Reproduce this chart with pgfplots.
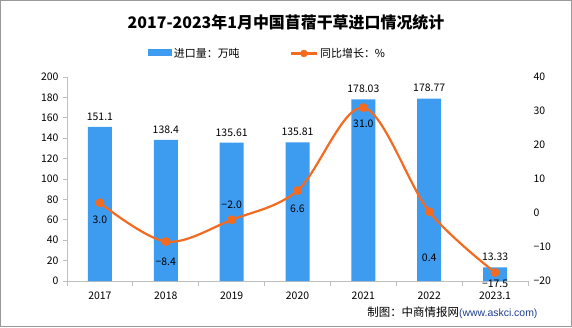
\documentclass[border=0pt]{standalone}
\usepackage{pgfplots}
\pgfplotsset{compat=1.18}
\usepackage{fontspec}
\setmainfont{Noto Sans CJK SC}
\definecolor{barblue}{HTML}{3E9CF0}
\definecolor{lineor}{HTML}{F26B21}
\definecolor{axgray}{HTML}{BFBFBF}
\definecolor{srcblue}{HTML}{1F3F8F}
\pgfplotstableread{
x vol growth
0 151.1 3.0
1 138.4 -8.4
2 135.61 -2.0
3 135.81 6.6
4 178.03 31.0
5 178.77 0.4
6 13.33 -17.5
}\data
\begin{document}
\begin{tikzpicture}[x=1bp,y=1bp]
\path[use as bounding box] (0,0) rectangle (572,327);
\fill[white] (0,0) rectangle (572,327);
\draw[gray!80, line width=1.2bp] (0.6,0.6) rectangle (571.4,326.4);
\node[font=\fontsize{16}{18}\selectfont\bfseries] at (286,305) {2017-2023年1月中国苜蓿干草进口情况统计};
% axes
\begin{axis}[
  at={(67bp,46bp)}, anchor=south west, scale only axis,
  width=461bp, height=204bp,
  xmin=-0.5, xmax=6.5, ymin=0, ymax=200,
  axis y line*=left, axis x line*=bottom,
  axis line style={axgray, line width=0.8bp},
  y axis line style={-}, x axis line style={-},
  ytick={0,20,...,200},
  xtick={0,...,6}, xticklabels={2017,2018,2019,2020,2021,2022,2023.1},
  major x tick style={draw=none},
  minor xtick={-0.5,0.5,...,6.5},
  minor x tick style={axgray, line width=0.8bp},
  tick align=outside,
  major tick length=4bp, minor tick length=5bp,
  ytick style={axgray, line width=0.8bp},
  tick label style={font=\fontsize{10.5}{12}\selectfont},
  /pgf/number format/assume math mode=true,
  x tick label style={yshift=-3bp},
  y tick label style={xshift=-1bp},
  legend style={at={(0.5,1)}, anchor=south, xshift=-30bp, yshift=14bp, draw=none, fill=none,
    legend columns=2, font=\fontsize{11}{13}\selectfont,
    /tikz/every even column/.append style={column sep=48bp}},
  legend image code/.code={\fill[barblue] (0bp,-3bp) rectangle (24bp,4bp);},
  clip=false,
]
\addplot[ybar, bar width=24bp, fill=barblue, draw=none,
  nodes near coords, nodes near coords style={font=\fontsize{10.5}{12}\selectfont, black, yshift=3bp},
  point meta=explicit symbolic]
  table[x=x, y=vol, meta=vol] {\data};
\addlegendentry{进口量：万吨}
\addlegendimage{legend image code/.code={\draw[lineor, line width=2.5bp] (0bp,0bp) -- (26bp,0bp); \fill[lineor] (13bp,0bp) circle (3.5bp);}}
\addlegendentry{同比增长：\%}
\end{axis}
\begin{axis}[
  at={(67bp,46bp)}, anchor=south west, scale only axis,
  width=461bp, height=204bp,
  xmin=-0.5, xmax=6.5, ymin=-20, ymax=40,
  axis y line*=right, axis x line=none,
  y axis line style={draw=none},
  ytick={-20,-10,...,40},
  yticklabels={−20,−10,0,10,20,30,40},
  ytick style={draw=none},
  tick label style={font=\fontsize{10.5}{12}\selectfont},
  y tick label style={xshift=2bp},
  clip=false,
]
\addplot[lineor, line width=2.2bp, smooth, tension=0.55, mark=*, mark size=3.3bp,
  mark options={fill=lineor, draw=lineor}]
  table[x=x, y=growth] {\data};
\addplot[only marks, mark=none, nodes near coords, point meta=explicit symbolic,
  nodes near coords style={font=\fontsize{10.5}{12}\selectfont, black, anchor=center}]
  table[x=x, y=y, meta=m] {
x y m
0 -2.0 3.0
1 -14.2 −8.4
2 2.3 −2.0
3 1.3 6.6
4 26.3 31.0
5 -13.2 0.4
6 -20.9 −17.5
};
\end{axis}
\node[anchor=east, font=\fontsize{11.5}{13}\selectfont] at (541,14) {制图：中商情报网{\fontspec{Liberation Sans}\fontsize{10.5}{12}\selectfont\color{srcblue}(www.askci.com)}};
\end{tikzpicture}
\end{document}
